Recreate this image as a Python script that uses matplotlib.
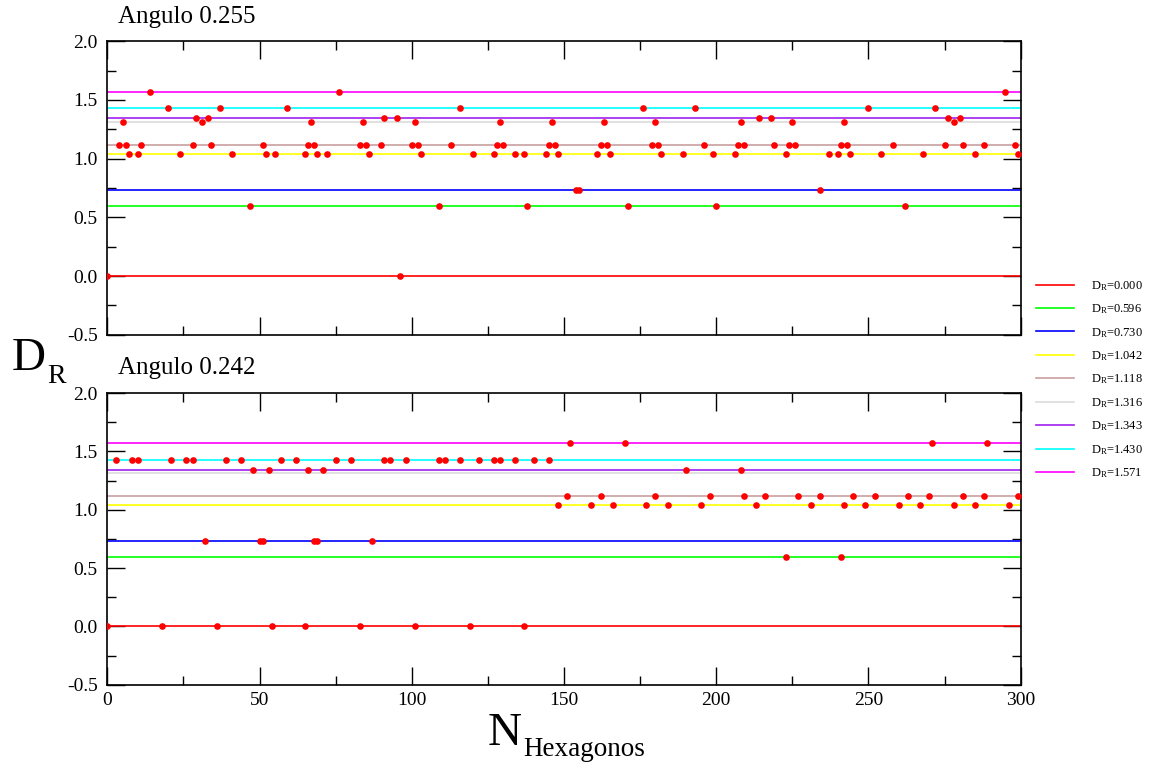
import matplotlib
matplotlib.use("Agg")
import matplotlib.pyplot as plt
from matplotlib.ticker import MultipleLocator, FormatStrFormatter

plt.rcParams['font.family'] = ['Liberation Serif', 'DejaVu Serif']
plt.rcParams['mathtext.fontset'] = 'custom'
plt.rcParams['mathtext.rm'] = 'Liberation Serif'
plt.rcParams['mathtext.it'] = 'Liberation Serif:italic'
plt.rcParams['axes.unicode_minus'] = False

# D_R levels and their line colours
levels = [0.000, 0.596, 0.730, 1.042, 1.118, 1.316, 1.343, 1.430, 1.571]
level_colors = ['#ff0000', '#00ff00', '#0000ff', '#ffff00', '#c8a0a0',
                '#dcdcdc', '#a020f0', '#00ffff', '#ff00ff']

# Hexagon indices sitting on each level, angle 0.255
top_pts = [
    [0, 96],
    [47, 109, 138, 171, 200, 262],
    [154, 155, 234],
    [7, 10, 24, 41, 52, 55, 65, 69, 72, 86, 103, 120, 127, 134, 137, 144, 148,
     161, 165, 182, 189, 199, 206, 223, 237, 240, 244, 254, 268, 285, 299],
    [4, 6, 11, 28, 34, 51, 66, 68, 83, 85, 90, 100, 102, 113, 128, 130, 145, 147,
     162, 164, 179, 181, 196, 207, 209, 219, 224, 226, 241, 243, 258, 275, 281,
     288, 298],
    [5, 31, 67, 84, 101, 129, 146, 163, 180, 208, 225, 242, 278],
    [29, 33, 91, 95, 214, 218, 276, 280],
    [20, 37, 59, 116, 176, 193, 250, 272],
    [14, 76, 295],
]

# Hexagon indices sitting on each level, angle 0.242
bot_pts = [
    [0, 18, 36, 54, 65, 83, 101, 119, 137],
    [223, 241],
    [32, 50, 51, 68, 69, 87],
    [148, 159, 166, 177, 184, 195, 213, 231, 242, 249, 260, 267, 278, 285, 296],
    [151, 162, 180, 198, 209, 216, 227, 234, 245, 252, 263, 270, 281, 288, 299],
    [],
    [48, 53, 66, 71, 190, 208],
    [3, 8, 10, 21, 26, 28, 39, 44, 57, 62, 75, 80, 91, 93, 98, 109, 111, 116,
     122, 127, 129, 134, 140, 145],
    [152, 170, 271, 289],
]

titles = ['Angulo 0.255', 'Angulo 0.242']

W, H = 1161, 768
fig = plt.figure(figsize=(W / 100, H / 100), dpi=100)
ax1 = fig.add_axes([107.3 / W, 1 - 334.7 / H, 913.4 / W, 293.4 / H])
ax2 = fig.add_axes([107.3 / W, 1 - 684.7 / H, 913.4 / W, 291.7 / H])


def draw_panel(ax, pts):
    handles = []
    for v, c, xs in zip(levels, level_colors, pts):
        h, = ax.plot([0, 300], [v, v], color=c, lw=1.2, zorder=2,
                     label='D$_\\mathrm{R}$=%.3f' % v)
        handles.append(h)
        if xs:
            ax.plot(xs, [v] * len(xs), 'o', color='red', ms=4.8, mec='red',
                    mew=0, zorder=3)
    ax.set_xlim(0, 300)
    ax.set_ylim(-0.5, 2.0)
    ax.xaxis.set_major_locator(MultipleLocator(50))
    ax.xaxis.set_minor_locator(MultipleLocator(25))
    ax.yaxis.set_major_locator(MultipleLocator(0.5))
    ax.yaxis.set_minor_locator(MultipleLocator(0.25))
    ax.yaxis.set_major_formatter(FormatStrFormatter('%.1f'))
    ax.tick_params(which='both', direction='in', top=True, right=True,
                   width=1.0, labelsize=14)
    ax.tick_params(which='major', length=13)
    ax.tick_params(which='minor', length=6.5)
    ax.tick_params(axis='y', pad=7)
    ax.tick_params(axis='x', pad=5)
    for s in ax.spines.values():
        s.set_linewidth(1.2)
    return handles


draw_panel(ax1, top_pts)
handles = draw_panel(ax2, bot_pts)
ax1.tick_params(axis='x', labelbottom=False)

fig.text(118 / W, 1 - 23 / H, titles[0], fontsize=18, va='baseline')
fig.text(118 / W, 1 - 374 / H, titles[1], fontsize=18, va='baseline')

# Axis labels with large, low subscripts
fig.text(12 / W, 1 - 370 / H, 'D', fontsize=34, va='baseline')
fig.text(47 / W, 1 - 383 / H, 'R', fontsize=20, va='baseline')
fig.text(488 / W, 1 - 745 / H, 'N', fontsize=34, va='baseline')
fig.text(523 / W, 1 - 756 / H, 'Hexagonos', fontsize=19.5, va='baseline')

fig.legend(handles=handles, loc='upper left',
           bbox_to_anchor=(1036 / W, 1 - 279 / H), frameon=False,
           fontsize=9, handlelength=3.0, handletextpad=1.4, labelspacing=0.77,
           borderaxespad=0, borderpad=0)

fig.savefig('out.png', dpi=100)
